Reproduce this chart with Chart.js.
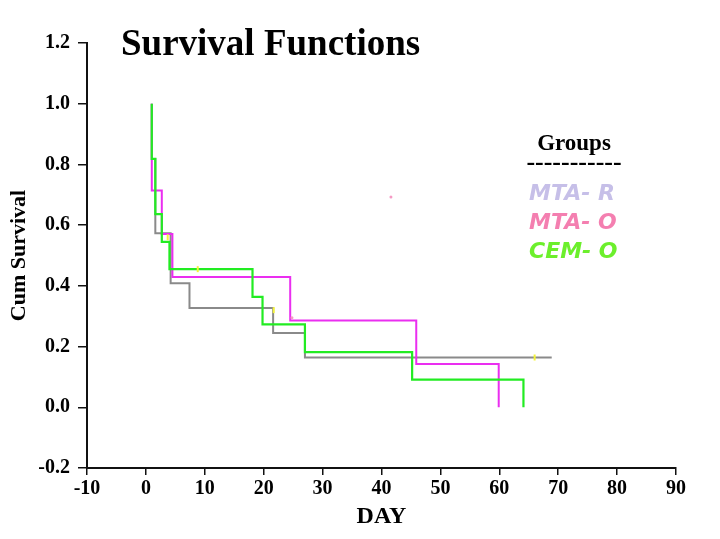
<!DOCTYPE html>
<html>
<head>
<meta charset="utf-8">
<script src="https://cdn.jsdelivr.net/npm/chart.js@4"></script>
<style>
  html, body { margin: 0; padding: 0; background: #ffffff; }
  #wrap { width: 720px; height: 539px; }
</style>
</head>
<body>
<div id="wrap"><canvas id="myChart" width="720" height="539"></canvas></div>
<script>
// Kaplan-Meier steps (day, cum survival)
const mtaRDays = [1.0, 1.0, 1.6, 4.2, 7.4, 21.6, 27.0, 68.9];
const mtaRSurv = [1.0, 0.818, 0.573, 0.409, 0.327, 0.245, 0.164, 0.164];
const mtaODays = [1.0, 1.0, 2.7, 4.5, 24.5, 45.9, 59.9];
const mtaOSurv = [1.0, 0.714, 0.571, 0.429, 0.286, 0.143, 0.0];
const cemDays  = [1.0, 1.0, 1.6, 2.7, 4.0, 18.1, 19.8, 27.0, 45.2, 64.1];
const cemSurv  = [1.0, 0.818, 0.636, 0.545, 0.455, 0.364, 0.273, 0.182, 0.091, 0.0];

// censored marks (small yellow ticks) and a stray pink dot
const censorDays = [3.7, 8.8, 21.7, 66.0];
const censorSurv = [0.56, 0.455, 0.32, 0.164];
const strayDays  = [24.8, 41.6];
const straySurv  = [0.295, 0.693];

const groupNames  = ["MTA- R", "MTA- O", "CEM- O"];
const groupColors = ["#c6bfe8", "#f47fb0", "#6cef2c"];

const xTicks = { min: -10, max: 90, step: 10 };
const yTicks = { min: -0.2, max: 1.2, step: 0.2 };

const toPoints = (days, surv) => days.map((d, i) => ({ x: d, y: surv[i] }));

const serif = '"Liberation Serif", "DejaVu Serif", serif';

const overlayText = {
    id: "overlayText",
    afterDraw(chart) {
        const ctx = chart.ctx;
        ctx.save();
        ctx.fillStyle = "#000000";
        ctx.textBaseline = "alphabetic";

        ctx.textAlign = "left";
        ctx.font = "bold 37px " + serif;
        ctx.fillText("Survival Functions", 121, 55);

        // legend block
        ctx.textAlign = "center";
        ctx.font = "bold 23px " + serif;
        ctx.fillText("Groups", 574, 150);
        ctx.font = "bold 26px " + serif;
        ctx.fillText("-----------", 574, 170);

        ctx.textAlign = "left";
        ctx.font = 'bold italic 22px "DejaVu Sans", sans-serif';
        groupNames.forEach((name, i) => {
            ctx.fillStyle = groupColors[i];
            ctx.fillText(name, 529, 200 + i * 29);
        });
        ctx.restore();
    }
};

const ctx = document.getElementById("myChart").getContext("2d");
new Chart(ctx, {
    type: "scatter",
    data: {
        datasets: [
            {
                label: "MTA-R",
                data: toPoints(mtaRDays, mtaRSurv),
                showLine: true, stepped: "before",
                borderColor: "#8a8a8a", borderWidth: 2,
                pointRadius: 0, order: 3,
            },
            {
                label: "MTA-O",
                data: toPoints(mtaODays, mtaOSurv),
                showLine: true, stepped: "before",
                borderColor: "#ea2ef0", borderWidth: 2,
                pointRadius: 0, order: 2,
            },
            {
                label: "CEM-O",
                data: toPoints(cemDays, cemSurv),
                showLine: true, stepped: "before",
                borderColor: "#22ec22", borderWidth: 2.2,
                pointRadius: 0, order: 1,
            },
            {
                label: "censored",
                data: toPoints(censorDays, censorSurv),
                showLine: false,
                pointStyle: "line", rotation: 90, pointRadius: 3,
                borderColor: "#f4f43a", borderWidth: 2, order: 0,
            },
            {
                label: "stray",
                data: toPoints(strayDays, straySurv),
                showLine: false,
                pointRadius: 1.5, backgroundColor: "#f59ac4",
                borderColor: "#f59ac4", borderWidth: 0, order: 0,
            },
        ]
    },
    options: {
        responsive: false,
        animation: false,
        layout: { padding: { top: 43, right: 44, left: 0, bottom: 0 } },
        plugins: {
            legend: { display: false },
            title: { display: false },
            tooltip: { enabled: false },
        },
        scales: {
            x: {
                type: "linear",
                min: xTicks.min, max: xTicks.max,
                afterFit: s => { s.height = 71; },
                border: { display: true, color: "#111111", width: 2 },
                grid: { display: true, drawOnChartArea: false, drawTicks: true,
                        tickLength: 7, color: "#111111", lineWidth: 1.5 },
                ticks: { stepSize: xTicks.step, padding: 2, color: "#000000",
                         font: { family: serif, size: 20, weight: "bold" } },
                title: { display: true, text: "DAY", color: "#000000",
                         padding: { top: 0, bottom: 8 },
                         font: { family: serif, size: 24, weight: "bold" } },
            },
            y: {
                type: "linear",
                min: yTicks.min, max: yTicks.max,
                afterFit: s => { s.width = 87; },
                border: { display: true, color: "#111111", width: 2 },
                grid: { display: true, drawOnChartArea: false, drawTicks: true,
                        tickLength: 9, color: "#111111", lineWidth: 1.5 },
                ticks: { stepSize: yTicks.step, padding: 8, color: "#000000",
                         callback: v => (Math.abs(v) < 1e-9 ? 0 : v).toFixed(1),
                         font: { family: serif, size: 20, weight: "bold" } },
                title: { display: true, text: "Cum Survival", color: "#000000",
                         padding: { top: 6, bottom: 0 },
                         font: { family: serif, size: 22, weight: "bold" } },
            }
        }
    },
    plugins: [overlayText]
});
</script>
</body>
</html>
